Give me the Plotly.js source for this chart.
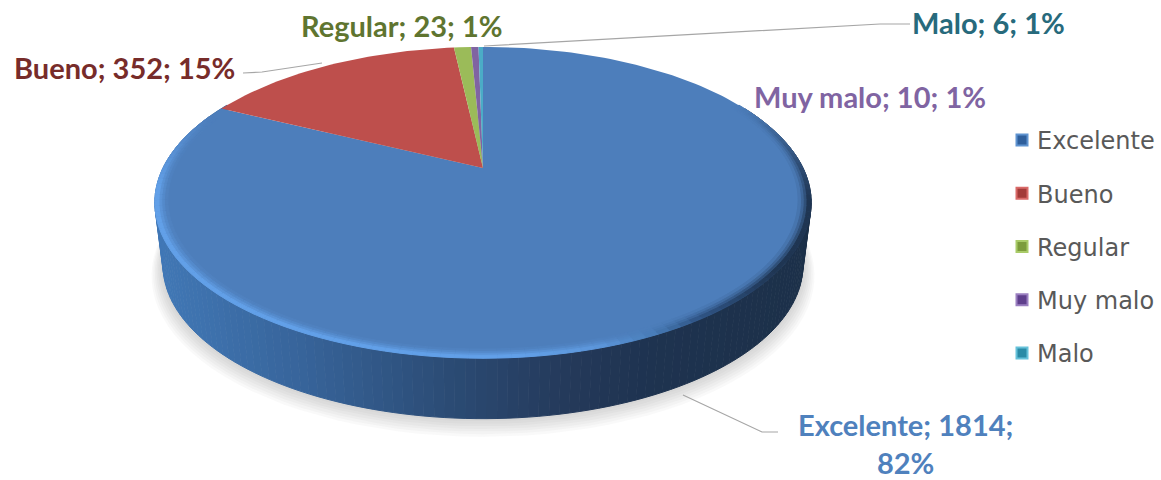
<!DOCTYPE html>
<html>
<head>
<meta charset="utf-8">
<script src="https://cdn.plot.ly/plotly-3.0.1.min.js"></script>
<style>html,body{margin:0;padding:0;background:#fff}#chart{width:1161px;height:480px}</style>
</head>
<body>
<div id="chart"></div>
<script>
// Survey ratings
const categories = ["Excelente", "Bueno", "Regular", "Muy malo", "Malo"];
const counts = [1814, 352, 23, 10, 6];
const statedShares = [82, 15, 1, 1, 1];
const sliceColors = ["#4d7ebb", "#be4f4c", "#9bbb59", "#8064a2", "#4bacc6"];
const keyColors = ["#2f5f9c", "#a33b39", "#7c9c3c", "#5f3f8c", "#2a8ba6"];
const keyEdges = ["#5f93d0", "#d96a68", "#a9cb68", "#9a7fc0", "#66c2da"];
const labelColors = ["#4f81bd", "#772c2a", "#5f7530", "#8064a2", "#276a7c"];
const labelAnchors = [[905, 443], [124, 67], [402, 25], [870, 96], [988, 22]];
const labelBreaks = ["<br>", " ", " ", " ", " "];

// Perspective disc: the pie plane tilts away, so the apex sits above the outline's centre.
const tilt = 0.222;
const topDisc = {cx: 483, cy: 168, a: 320, b: 148};
const baseDisc = {cx: 483, cy: 231, a: 312, b: 146};

function project(disc, thetaDeg, r) {
  const t = thetaDeg * Math.PI / 180;
  const X = r * Math.sin(t), Y = r * Math.cos(t);
  const w = 1 + tilt * Y;
  return [disc.cx + disc.a * X / w, disc.cy - disc.b * Y / w];
}

function hex(c) { return [1, 3, 5].map(i => parseInt(c.substr(i, 2), 16)); }
function mix(c1, c2, s) {
  const a = hex(c1), b = hex(c2);
  const v = a.map((p, i) => Math.round(p + (b[i] - p) * s));
  return "#" + v.map(p => p.toString(16).padStart(2, "0")).join("");
}
function ramp(stops, u) {
  if (u <= stops[0][0]) return stops[0][1];
  for (let i = 1; i < stops.length; i++) {
    if (u <= stops[i][0]) {
      return mix(stops[i-1][1], stops[i][1], (u - stops[i-1][0]) / (stops[i][0] - stops[i-1][0]));
    }
  }
  return stops[stops.length - 1][1];
}
function polygon(pts, fill, edge) {
  return {
    type: "scatter", mode: "lines", fill: "toself", fillcolor: fill,
    x: pts.map(p => p[0]), y: pts.map(p => p[1]),
    line: {color: edge || fill, width: edge ? 1 : 0},
    hoverinfo: "skip", showlegend: false
  };
}
function arcPoints(disc, from, to, r, step) {
  const pts = [];
  const n = Math.max(1, Math.ceil(Math.abs(to - from) / step));
  for (let i = 0; i <= n; i++) pts.push(project(disc, from + (to - from) * i / n, r));
  return pts;
}

const traces = [];

// Soft shadow under the lower edge of the disc
for (let i = 7; i >= 1; i--) {
  const d = {cx: baseDisc.cx, cy: baseDisc.cy + i * 1.3, a: baseDisc.a + i * 1.6, b: baseDisc.b + i * 1.0};
  traces.push(polygon(arcPoints(d, 0, 360, 1, 3), "rgba(90,90,90,0.04)"));
}

// Side wall, shaded from left to right
const wallStops = [[155, "#4178b6"], [300, "#37649a"], [450, "#2b4b74"], [570, "#24395a"], [650, "#1e3350"], [810, "#1c3049"]];
const wallStep = 1.5;
for (let th = 64; th < 298; th += wallStep) {
  const a = arcPoints(topDisc, th, th + wallStep, 1, wallStep);
  const b = arcPoints(baseDisc, th + wallStep, th, 1, wallStep);
  const c = ramp(wallStops, (a[0][0] + a[1][0]) / 2);
  traces.push(polygon(a.concat(b), c, c));
}

// Top face: slices run clockwise from twelve o'clock, sized by the counts
const total = counts.reduce((s, v) => s + v, 0);
let start = 0;
categories.forEach((name, i) => {
  const sweep = counts[i] / total * 360;
  const pts = [[topDisc.cx, topDisc.cy]].concat(arcPoints(topDisc, start, start + sweep, 1, 1.5));
  traces.push(polygon(pts, sliceColors[i]));
  start += sweep;
});

// Rounded rim: a soft light band along the left and front, a faint dark one on the right
const face = sliceColors[0];
const rimBands = [[0.962, 0.972, 0.12], [0.972, 0.98, 0.35], [0.98, 0.988, 0.65], [0.988, 1.0, 1.0]];
const rimStep = 2;
for (let th = 62; th < 292; th += rimStep) {
  const mid = th + rimStep / 2;
  const u = project(topDisc, mid, 1)[0];
  const target = ramp([[520, "#62a0e8"], [600, "#5c96da"], [650, "#4a7fbb"], [700, "#2f5586"], [780, "#1f3552"]], u);
  const rise = Math.min(1, (mid - 62) / 40);
  const fall = Math.min(1, (292 - mid) / 30);
  const s = Math.min(rise, fall);
  rimBands.forEach(([r0, r1, k]) => {
    const c = mix(face, target, s * k);
    const pts = arcPoints(topDisc, th, th + rimStep, r1, rimStep).concat(arcPoints(topDisc, th + rimStep, th, r0, rimStep));
    traces.push(polygon(pts, c, c));
  });
}

// Leader lines
const leaderX = [[243, 262, 322], [484, 880, 910], [683, 762, 778]];
const leaderY = [[73, 72, 63], [46, 24, 24], [395, 432, 432]];
leaderX.forEach((xs, i) => traces.push({
  type: "scatter", mode: "lines", x: xs, y: leaderY[i],
  line: {color: "#a6a6a6", width: 1.2}, hoverinfo: "skip", showlegend: false
}));

// Legend keys
categories.forEach((name, i) => traces.push({
  type: "scatter", mode: "markers", name: name, legendgroup: name,
  x: [null], y: [null],
  marker: {symbol: "square", size: 11, color: keyColors[i], line: {color: keyEdges[i], width: 2}},
  hoverinfo: "skip"
}));

const annotations = categories.map((name, i) => ({
  x: labelAnchors[i][0], y: labelAnchors[i][1], xref: "x", yref: "y",
  text: name + "; " + counts[i] + ";" + labelBreaks[i] + statedShares[i] + "%",
  showarrow: false, xanchor: "center", yanchor: "middle",
  font: {family: "Lato, sans-serif", size: 29, color: labelColors[i], weight: 700}
}));

const layout = {
  width: 1161, height: 480,
  margin: {l: 0, r: 0, t: 0, b: 0},
  paper_bgcolor: "#ffffff", plot_bgcolor: "#ffffff",
  xaxis: {range: [0, 1161], visible: false, fixedrange: true},
  yaxis: {range: [480, 0], visible: false, fixedrange: true},
  hovermode: false,
  showlegend: true,
  legend: {
    x: 997 / 1161, xanchor: "left", y: 1 - 118 / 480, yanchor: "top",
    font: {family: "'DejaVu Sans', sans-serif", size: 24, color: "#595959"},
    bgcolor: "rgba(0,0,0,0)", tracegroupgap: 19, itemclick: false, itemdoubleclick: false
  },
  annotations: annotations
};

Plotly.newPlot("chart", traces, layout, {displayModeBar: false, staticPlot: true}).then(() => {
  // Bring the legend keys closer to their labels
  document.querySelectorAll("#chart .legend .legendpoints").forEach(g => g.setAttribute("transform", "translate(5,0)"));
});
</script>
</body>
</html>
